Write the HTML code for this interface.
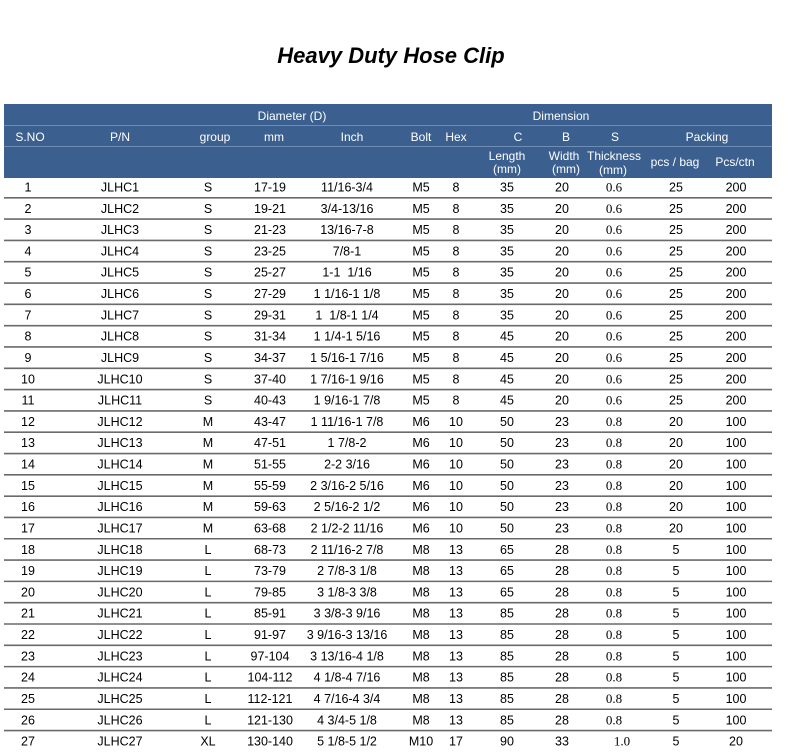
<!DOCTYPE html>
<html><head><meta charset="utf-8"><style>
html,body{margin:0;padding:0;background:#fff;width:797px;height:754px;overflow:hidden}
svg{display:block}
text{font-family:"Liberation Sans",Arial,sans-serif;font-size:12.5px;fill:#000}
.h{fill:#fff;font-size:12px}
.s{font-family:"Liberation Serif",serif;font-size:13px}
</style></head><body>
<svg width="797" height="754" viewBox="0 0 797 754">
<text x="391" y="63" text-anchor="middle" style="font-size:22px;font-weight:bold;font-style:italic">Heavy Duty Hose Clip</text>
<rect x="4" y="104" width="768" height="74" fill="#3b5f8e"/>
<line x1="4" y1="125.5" x2="772" y2="125.5" stroke="#6f8db3" stroke-width="1"/>
<line x1="4" y1="146.5" x2="772" y2="146.5" stroke="#6f8db3" stroke-width="1"/>
<g text-anchor="middle" class="hh">
<text class="h" x="292" y="120">Diameter (D)</text>
<text class="h" x="561" y="120">Dimension</text>
<text class="h" x="30" y="141">S.NO</text>
<text class="h" x="120" y="141">P/N</text>
<text class="h" x="215" y="141">group</text>
<text class="h" x="274" y="141">mm</text>
<text class="h" x="352" y="141">Inch</text>
<text class="h" x="421" y="141">Bolt</text>
<text class="h" x="456" y="141">Hex</text>
<text class="h" x="518" y="141">C</text>
<text class="h" x="566" y="141">B</text>
<text class="h" x="615" y="141">S</text>
<text class="h" x="707" y="141">Packing</text>
<text class="h" x="507" y="160">Length</text>
<text class="h" x="507" y="173">(mm)</text>
<text class="h" x="564" y="160">Width</text>
<text class="h" x="566" y="173">(mm)</text>
<text class="h" x="614" y="160">Thickness</text>
<text class="h" x="613" y="174">(mm)</text>
<text class="h" x="675" y="166">pcs / bag</text>
<text class="h" x="735" y="166">Pcs/ctn</text>
</g>
<g id="rows" text-anchor="middle"></g>
</svg>
<script>
var d=[
["1","JLHC1","S","17-19","11/16-3/4","M5","8","35","20","0.6","25","200"],
["2","JLHC2","S","19-21","3/4-13/16","M5","8","35","20","0.6","25","200"],
["3","JLHC3","S","21-23","13/16-7-8","M5","8","35","20","0.6","25","200"],
["4","JLHC4","S","23-25","7/8-1","M5","8","35","20","0.6","25","200"],
["5","JLHC5","S","25-27","1-1  1/16","M5","8","35","20","0.6","25","200"],
["6","JLHC6","S","27-29","1 1/16-1 1/8","M5","8","35","20","0.6","25","200"],
["7","JLHC7","S","29-31","1  1/8-1 1/4","M5","8","35","20","0.6","25","200"],
["8","JLHC8","S","31-34","1 1/4-1 5/16","M5","8","45","20","0.6","25","200"],
["9","JLHC9","S","34-37","1 5/16-1 7/16","M5","8","45","20","0.6","25","200"],
["10","JLHC10","S","37-40","1 7/16-1 9/16","M5","8","45","20","0.6","25","200"],
["11","JLHC11","S","40-43","1 9/16-1 7/8","M5","8","45","20","0.6","25","200"],
["12","JLHC12","M","43-47","1 11/16-1 7/8","M6","10","50","23","0.8","20","100"],
["13","JLHC13","M","47-51","1 7/8-2","M6","10","50","23","0.8","20","100"],
["14","JLHC14","M","51-55","2-2 3/16","M6","10","50","23","0.8","20","100"],
["15","JLHC15","M","55-59","2 3/16-2 5/16","M6","10","50","23","0.8","20","100"],
["16","JLHC16","M","59-63","2 5/16-2 1/2","M6","10","50","23","0.8","20","100"],
["17","JLHC17","M","63-68","2 1/2-2 11/16","M6","10","50","23","0.8","20","100"],
["18","JLHC18","L","68-73","2 11/16-2 7/8","M8","13","65","28","0.8","5","100"],
["19","JLHC19","L","73-79","2 7/8-3 1/8","M8","13","65","28","0.8","5","100"],
["20","JLHC20","L","79-85","3 1/8-3 3/8","M8","13","65","28","0.8","5","100"],
["21","JLHC21","L","85-91","3 3/8-3 9/16","M8","13","85","28","0.8","5","100"],
["22","JLHC22","L","91-97","3 9/16-3 13/16","M8","13","85","28","0.8","5","100"],
["23","JLHC23","L","97-104","3 13/16-4 1/8","M8","13","85","28","0.8","5","100"],
["24","JLHC24","L","104-112","4 1/8-4 7/16","M8","13","85","28","0.8","5","100"],
["25","JLHC25","L","112-121","4 7/16-4 3/4","M8","13","85","28","0.8","5","100"],
["26","JLHC26","L","121-130","4 3/4-5 1/8","M8","13","85","28","0.8","5","100"],
["27","JLHC27","XL","130-140","5 1/8-5 1/2","M10","17","90","33","1.0","5","20"]];
var xs=[28,120,208,270,347,421,456,507,562,614,676,736];
var g=document.getElementById('rows'),h='';
for(var i=0;i<d.length;i++){
 var y=187+i*21.31;
 for(var j=0;j<12;j++){
  var x=xs[j]; if(i==26&&j==9)x=622;
  h+='<text x="'+x+'" y="'+(y+4.5)+'"'+(j==9?' class="s"':'')+' xml:space="preserve">'+d[i][j]+'</text>';
 }
 if(i<26) h+='<line x1="4" x2="772" y1="'+(y+10.8)+'" y2="'+(y+10.8)+'" stroke="#6a6a6a" stroke-width="1.6"/>';
}
g.innerHTML=h;
</script>
</body></html>
